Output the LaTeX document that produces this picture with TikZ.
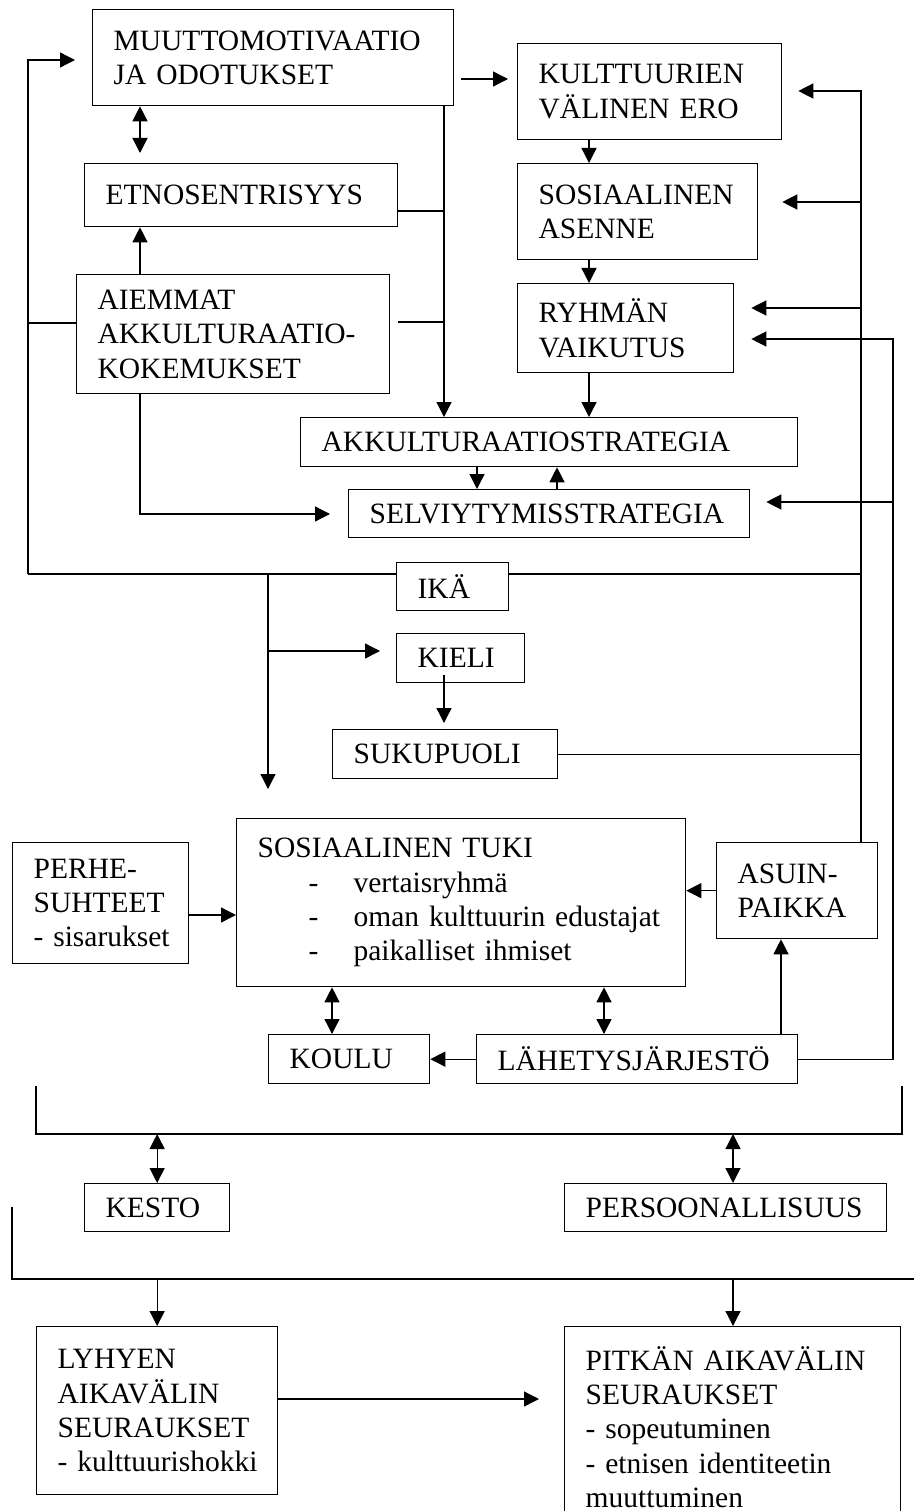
\documentclass[tikz,border=0pt]{standalone}
\usepackage{fontspec}
\setmainfont{Liberation Serif}
\usetikzlibrary{arrows.meta}
\hyphenpenalty=10000
\exhyphenpenalty=10000
\newcommand{\tukikohta}[1]{\hspace*{51pt}\makebox[45pt][l]{-}#1}

\begin{document}
\begin{tikzpicture}[x=1pt, y=-1pt,
    font=\fontsize{29.5}{34.3}\selectfont,
    line width=1.3pt,
    >={Triangle[length=15pt, width=15pt]},
    laatikko/.style={draw, anchor=north west, align=left, inner xsep=21pt, inner ysep=0pt}]
    \clip (0,0) rectangle (914,1511);

    % Ylaosa
    \node[laatikko, text width=319pt, minimum height=96pt] (muutto) at (92,9) {MUUTTOMOTIVAATIO\\JA ODOTUKSET};
    \node[laatikko, text width=222pt, minimum height=96pt] (kulttuuri) at (517,43) {KULTTUURIEN\\VÄLINEN ERO};
    \node[laatikko, text width=271pt, minimum height=63pt] (etno) at (84,163) {ETNOSENTRISYYS};
    \node[laatikko, text width=198pt, minimum height=96pt] (asenne) at (517,163) {SOSIAALINEN\\ASENNE};
    \node[laatikko, text width=271pt, minimum height=119pt] (aiemmat) at (76,274) {AIEMMAT\\AKKULTURAATIO-\\KOKEMUKSET};
    \node[laatikko, text width=174pt, minimum height=89pt] (ryhma) at (517,283) {RYHMÄN\\VAIKUTUS};

    % Strategiat
    \node[laatikko, text width=455pt, minimum height=49pt] (akk) at (300,417) {AKKULTURAATIOSTRATEGIA};
    \node[laatikko, text width=359pt, minimum height=48pt] (selv) at (348,489) {SELVIYTYMISSTRATEGIA};

    % Taustatekijat
    \node[laatikko, text width=70pt, minimum height=48pt] (ika) at (396,562) {IKÄ};
    \node[laatikko, text width=86pt, minimum height=49pt] (kieli) at (396,633) {KIELI};
    \node[laatikko, text width=183pt, minimum height=49pt] (suku) at (332,729) {SUKUPUOLI};

    % Sosiaalinen tuki
    \node[laatikko, text width=407pt, minimum height=168pt] (tuki) at (236,818) {SOSIAALINEN TUKI\\
        \tukikohta{vertaisryhmä}\\
        \tukikohta{oman kulttuurin edustajat}\\
        \tukikohta{paikalliset ihmiset}};
    \node[laatikko, text width=134pt, minimum height=121pt] (perhe) at (12,842) {PERHE-\\SUHTEET\\-~sisarukset};
    \node[laatikko, text width=119pt, minimum height=96pt] (asuin) at (716,842) {ASUIN-\\PAIKKA};
    \node[laatikko, text width=119pt, minimum height=49pt] (koulu) at (268,1034) {KOULU};
    \node[laatikko, text width=279pt, minimum height=49pt] (lahetys) at (476,1034) {LÄHETYSJÄRJESTÖ};

    % Kesto ja persoonallisuus
    \node[laatikko, text width=103pt, minimum height=48pt] (kesto) at (84,1183) {KESTO};
    \node[laatikko, text width=280pt, minimum height=48pt] (persoona) at (564,1183) {PERSOONALLISUUS};

    % Seuraukset
    \node[laatikko, text width=199pt, minimum height=168pt] (lyhyt) at (36,1326) {LYHYEN\\AIKAVÄLIN\\SEURAUKSET\\-~kulttuurishokki};
    \node[laatikko, text width=294pt, minimum height=201pt] (pitka) at (564,1326) {PITKÄN AIKAVÄLIN\\SEURAUKSET\\-~sopeutuminen\\-~etnisen identiteetin\\muuttuminen};

    % Liitoskohdat
    \coordinate (vy) at (28,60);
    \coordinate (va) at (28,574);
    \coordinate (vk) at (28,323);
    \coordinate (mk) at (0,79);
    \coordinate (ks) at (140,514);
    \coordinate (ke) at (444,211);
    \coordinate (ka) at (444,322);
    \coordinate (kp) at (589,0);
    \coordinate (s1) at (477,0);
    \coordinate (s2) at (557,0);
    \coordinate (oy) at (861,91);
    \coordinate (oa) at (861,202);
    \coordinate (or) at (861,308);
    \coordinate (oo) at (893,339);
    \coordinate (os) at (893,502);
    \coordinate (ik) at (268,574);
    \coordinate (ki) at (268,651);
    \coordinate (pt) at (0,915);
    \coordinate (t1) at (332,0);
    \coordinate (t2) at (604,0);
    \coordinate (la) at (781,0);
    \coordinate (h1) at (36,1086);
    \coordinate (h2) at (902,1134);
    \coordinate (h3) at (12,1207);
    \coordinate (h4) at (914,1279);
    \coordinate (p1) at (733,0);
    \coordinate (ls) at (0,1399);

    % Vasen runko
    \draw[->, shorten >=17pt] (va) -- (vy) -- (vy -| muutto.west);
    \draw (vk) -- (vk -| aiemmat.west);
    \draw (va) -- (va -| ika.west);
    \draw[<->, shorten >=10pt] (muutto.south -| ks) -- (etno.north -| ks);
    \draw[->] (aiemmat.north -| ks) -- (etno.south -| ks);
    \draw[->, shorten >=18pt] (aiemmat.south -| ks) -- (ks) -- (ks -| selv.west);

    % Keskirunko
    \draw[->] (muutto.south -| ke) -- (akk.north -| ke);
    \draw (etno.east |- ke) -- (ke);
    \draw[shorten <=8pt] (aiemmat.east |- ka) -- (ka);
    \draw[->, shorten <=7pt, shorten >=9pt] (muutto.east |- mk) -- (kulttuuri.west |- mk);

    % Kulttuuriero -> strategiat
    \draw[->] (kulttuuri.south -| kp) -- (asenne.north -| kp);
    \draw[->] (asenne.south -| kp) -- (ryhma.north -| kp);
    \draw[->] (ryhma.south -| kp) -- (akk.north -| kp);
    \draw[->] (akk.south -| s1) -- (selv.north -| s1);
    \draw[->] (selv.north -| s2) -- (akk.south -| s2);

    % Oikea runko
    \draw[->, shorten >=16pt] (asuin.north -| oy) -- (oy) -- (kulttuuri.east |- oy);
    \draw[->, shorten >=24pt] (oa) -- (asenne.east |- oa);
    \draw[->, shorten >=17pt] (or) -- (ryhma.east |- or);
    \draw (ika.east |- va) -- (va -| oy);
    \draw (suku.east) -- (suku.east -| oy);
    \draw[->, shorten >=17pt] (lahetys.east) -- (lahetys.east -| oo) -- (oo) -- (ryhma.east |- oo);
    \draw[->, shorten >=16pt] (os) -- (selv.east |- os);

    % Ika, kieli, sukupuoli
    \draw[->, shorten >=29pt] (ik) -- (tuki.north -| ik);
    \draw[->, shorten >=16pt] (ki) -- (kieli.west |- ki);
    \draw[->, shorten <=-8pt, shorten >=6pt] (kieli.south -| ke) -- (suku.north -| ke);

    % Sosiaalinen tuki
    \draw[->] (perhe.east |- pt) -- (tuki.west |- pt);
    \draw[->] (asuin.west) -- (tuki.east |- asuin.west);
    \draw[->] (lahetys.north -| la) -- (asuin.south -| la);
    \draw[<->] (tuki.south -| t1) -- (koulu.north -| t1);
    \draw[<->] (tuki.south -| t2) -- (lahetys.north -| t2);
    \draw[->] (lahetys.west) -- (koulu.east);

    % Sulut
    \draw (h1) |- (h2) -- (h2 |- h1);
    \draw[<->] (kesto.north |- h2) -- (kesto.north);
    \draw[<->] (p1 |- h2) -- (persoona.north -| p1);
    \draw (h3) |- (h4);
    \draw[->] (lyhyt.north |- h4) -- (lyhyt.north);
    \draw[->] (p1 |- h4) -- (pitka.north -| p1);
    \draw[->, shorten >=25pt] (lyhyt.east |- ls) -- (pitka.west |- ls);
\end{tikzpicture}
\end{document}
